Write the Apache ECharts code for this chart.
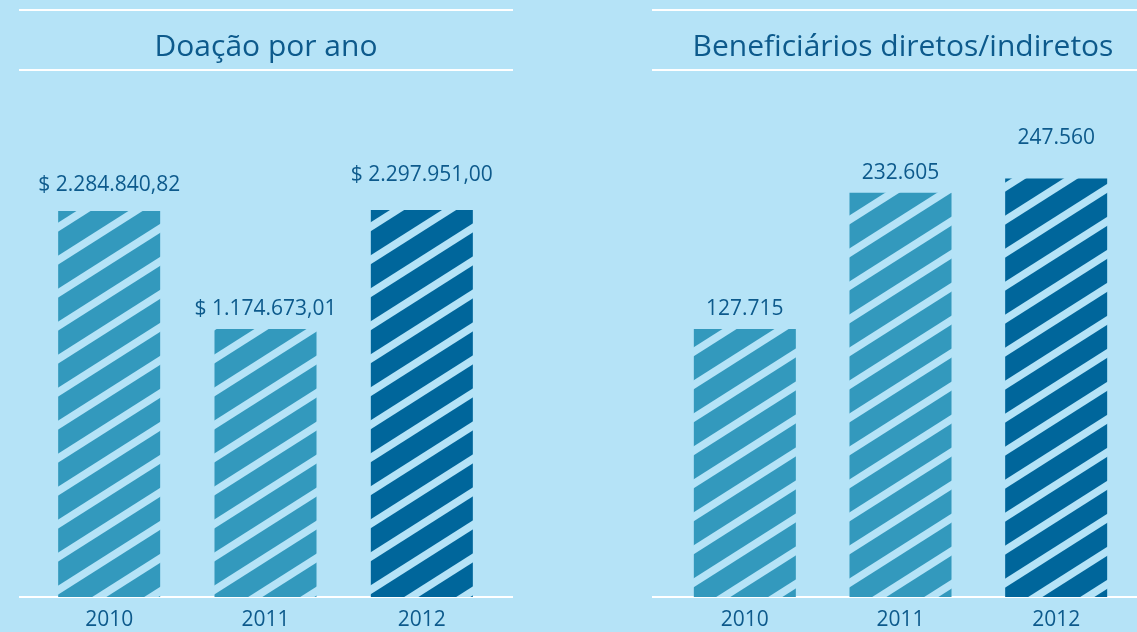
<!DOCTYPE html>
<html>
<head>
<meta charset="utf-8">
<script src="https://cdn.jsdelivr.net/npm/echarts@6/dist/echarts.min.js"></script>
<style>
  html, body { margin: 0; padding: 0; background: #b5e3f7; }
  #chart { width: 1137px; height: 632px; }
</style>
</head>
<body>
<div id="chart"></div>
<script>
// chart data
const years = ["2010", "2011", "2012"]
const donations = [2284840.82, 1174673.01, 2297951.0]
const beneficiaries = [127715, 232605, 247560]
const leftTitle = "Doação por ano"
const rightTitle = "Beneficiários diretos/indiretos"

// label gap above each bar (styling only)
const leftGap = [16, 9, 25]
const rightGap = [10, 9, 30]

const BG = "#b5e3f7"
const LIGHT = "#3399bd"
const DARK = "#00669b"
const TEXT = "#0d5a8c"
const FONT = "'Open Sans', sans-serif"

// diagonal stripe tile (one stripe per tile so it repeats cleanly)
function stripes(color) {
  const W = 52, H = 33, t = 9
  const c = document.createElement("canvas")
  c.width = W
  c.height = H
  const ctx = c.getContext("2d")
  ctx.fillStyle = color
  ctx.fillRect(0, 0, W, H)
  ctx.fillStyle = BG
  for (let k = -1; k <= 1; k++) {
    ctx.beginPath()
    ctx.moveTo(0, H + k * H - t / 2)
    ctx.lineTo(W, k * H - t / 2)
    ctx.lineTo(W, k * H + t / 2)
    ctx.lineTo(0, H + k * H + t / 2)
    ctx.closePath()
    ctx.fill()
  }
  return { image: c, repeat: "repeat" }
}

// pt-BR number format
function fmt(v, dec) {
  const parts = v.toFixed(dec).split(".")
  const int = parts[0].replace(/\B(?=(\d{3})+(?!\d))/g, ".")
  return parts.length > 1 ? int + "," + parts[1] : int
}

const lightFill = stripes(LIGHT)
const darkFill = stripes(DARK)

function barData(values, gaps) {
  return values.map(function (v, i) {
    return {
      value: v,
      itemStyle: { color: i === 2 ? darkFill : lightFill },
      label: { distance: gaps[i] },
    }
  })
}

function hline(x1, x2, y) {
  return {
    type: "line",
    shape: { x1: x1, y1: y, x2: x2, y2: y },
    style: { stroke: "#ffffff", lineWidth: 2 },
    silent: true,
  }
}

function barLabel(formatter) {
  return {
    show: true,
    position: "top",
    color: TEXT,
    fontFamily: FONT,
    fontSize: 21,
    formatter: formatter,
  }
}

const chart = echarts.init(document.getElementById("chart"))

const titleStyle = { color: TEXT, fontFamily: FONT, fontSize: 30, fontWeight: "normal" }

const option = {
  backgroundColor: BG,
  animation: false,
  title: [
    { text: leftTitle, left: 266, top: 32, textAlign: "center", padding: 0, textStyle: titleStyle },
    { text: rightTitle, left: 903, top: 32, textAlign: "center", padding: 0, textStyle: titleStyle },
  ],
  graphic: [
    hline(19, 513, 10),
    hline(19, 513, 70),
    hline(19, 513, 597),
    hline(652, 1137, 10),
    hline(652, 1137, 70),
    hline(652, 1137, 597),
  ],
  grid: [
    { left: 31, width: 469, top: 100, bottom: 35 },
    { left: 667, width: 467, top: 100, bottom: 35 },
  ],
  xAxis: [0, 1].map(function (g) {
    return {
      type: "category",
      gridIndex: g,
      data: years,
      axisLine: { show: false },
      axisTick: { show: false },
      axisLabel: { color: TEXT, fontFamily: FONT, fontSize: 21, margin: 13 },
    }
  }),
  // the infographic bars are not proportional; a log scale fits them closely
  yAxis: [
    { type: "log", logBase: Math.E, gridIndex: 0, min: 259090, max: 4274300, show: false, splitLine: { show: false } },
    { type: "log", logBase: Math.E, gridIndex: 1, min: 39304, max: 349680, show: false, splitLine: { show: false } },
  ],
  series: [
    {
      type: "bar",
      xAxisIndex: 0,
      yAxisIndex: 0,
      clip: true,
      barWidth: 102,
      data: barData(donations, leftGap),
      label: barLabel(function (p) {
        return "$ " + fmt(p.value, 2)
      }),
    },
    {
      type: "bar",
      xAxisIndex: 1,
      yAxisIndex: 1,
      clip: true,
      barWidth: 102,
      data: barData(beneficiaries, rightGap),
      label: barLabel(function (p) {
        return fmt(p.value, 0)
      }),
    },
  ],
}

chart.setOption(option)
</script>
</body>
</html>
